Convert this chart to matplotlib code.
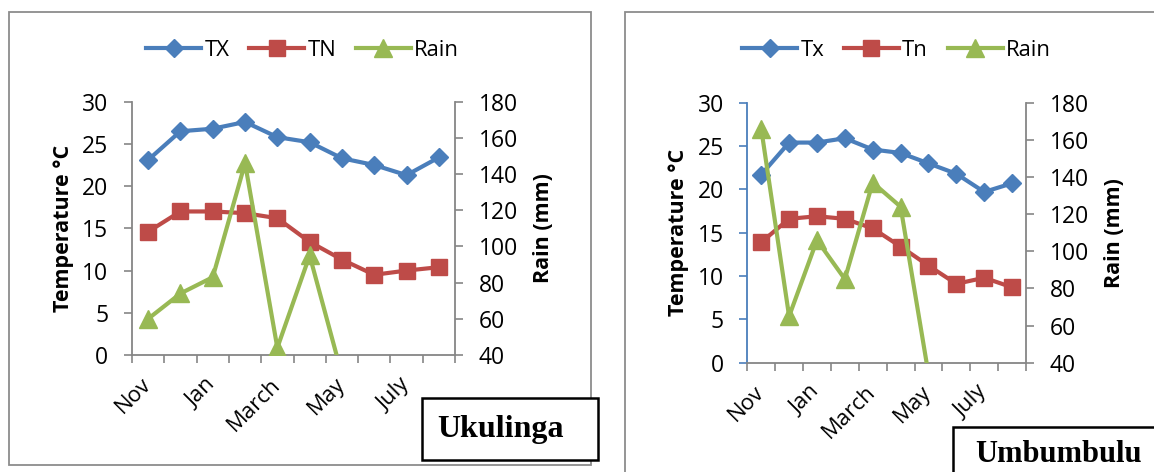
import numpy as np
import matplotlib.pyplot as plt
from matplotlib.patches import Rectangle
from matplotlib.transforms import ScaledTranslation

plt.rcParams['font.family'] = ['Open Sans', 'DejaVu Sans']

# Datos
months = ["Nov", "Dec", "Jan", "Feb", "March", "April", "May", "June", "July", "Aug"]

uk_tx = [23.1, 26.5, 26.8, 27.6, 25.8, 25.2, 23.3, 22.5, 21.3, 23.4]
uk_tn = [14.6, 17.0, 17.0, 16.8, 16.2, 13.4, 11.3, 9.5, 10.0, 10.4]
uk_rain = [60, 74, 83, 146, 44, 95, 29, np.nan, np.nan, np.nan]

um_tx = [21.7, 25.4, 25.4, 25.9, 24.6, 24.2, 23.0, 21.8, 19.7, 20.7]
um_tn = [13.9, 16.6, 16.9, 16.6, 15.5, 13.4, 11.2, 9.1, 9.8, 8.7]
um_rain = [166, 65, 106, 85, 137, 124, 34, np.nan, np.nan, np.nan]

blue = "#4A7EBB"
red = "#BE4B48"
green = "#98B954"
gris = "#868686"

W, H = 1154, 472
fig = plt.figure(figsize=(W / 100, H / 100), dpi=100)


def caja(x0, y0, x1, y1):
    return [x0 / W, 1 - y1 / H, (x1 - x0) / W, (y1 - y0) / H]


# bordes de los graficos
fig.add_artist(Rectangle((8.6 / W, 1 - 465 / H), (590.7 - 8.6) / W, (465 - 11.7) / H,
                         transform=fig.transFigure, fill=False, ec="#8C8C8C", lw=1.3))
fig.add_artist(Rectangle((624.6 / W, -0.05), 0.6, 1.05 - 11.7 / H,
                         transform=fig.transFigure, fill=False, ec="#8C8C8C", lw=1.3))


def grafico(pos, tx, tn, rain, nombres, color_izq, leyenda_x):
    ax = fig.add_axes(pos)
    x = np.arange(len(months))
    l1, = ax.plot(x, tx, color=blue, lw=3, marker="D", ms=9.5, label=nombres[0])
    l2, = ax.plot(x, tn, color=red, lw=3, marker="s", ms=12, label=nombres[1])
    ax.set_ylim(0, 30)
    ax.set_yticks(np.arange(0, 31, 5))
    ax.set_xlim(-0.5, 9.5)
    ax.set_xticks(np.arange(-0.5, 10, 1))
    ax.set_xticklabels([])
    ax.set_xticks(x[::2], minor=True)
    ax.set_xticklabels(months[::2], minor=True, rotation=45, ha="right", va="center",
                       rotation_mode="anchor", fontsize=16)
    off = ScaledTranslation(6 / 100, 0, fig.dpi_scale_trans)
    for t in ax.get_xticklabels(minor=True):
        t.set_transform(t.get_transform() + off)
    ax.tick_params(axis="x", which="minor", length=0, pad=19)
    ax.tick_params(axis="x", which="major", length=5.5, width=1.2, color=gris, direction="out")
    ax.tick_params(axis="y", length=5.5, width=1.2, color=color_izq, labelsize=16.5, pad=11.5)
    ax.spines["top"].set_visible(False)
    ax.spines["right"].set_visible(False)
    ax.spines["left"].set_color(color_izq)
    ax.spines["bottom"].set_color(gris)
    ax.spines["left"].set_linewidth(1.3)
    ax.spines["bottom"].set_linewidth(1.3)
    ax.set_ylabel("Temperature °C", fontsize=15.5, fontweight="bold", labelpad=6)

    ax2 = ax.twinx()
    l3, = ax2.plot(x, rain, color=green, lw=3, marker="^", ms=13, label=nombres[2])
    ax2.set_ylim(40, 180)
    ax2.set_yticks(np.arange(40, 181, 20))
    ax2.tick_params(axis="y", length=5.5, width=1.2, color=gris, labelsize=16.5, pad=11.5)
    for s in ["top", "left", "bottom"]:
        ax2.spines[s].set_visible(False)
    ax2.spines["right"].set_color(gris)
    ax2.spines["right"].set_linewidth(1.3)
    ax2.set_ylabel("Rain (mm)", fontsize=15.5, fontweight="bold", labelpad=11)

    fig.legend(handles=[l1, l2, l3], loc="center", bbox_to_anchor=(leyenda_x / W, 1 - 50 / H),
               ncol=3, frameon=False, fontsize=15.8, handlelength=2.5, handletextpad=0.15,
               columnspacing=0.9, borderaxespad=0, borderpad=0)
    return ax


grafico(caja(132, 101.7, 455, 355), uk_tx, uk_tn, uk_rain, ["TX", "TN", "Rain"], gris, 302.5)
grafico(caja(747.3, 102.7, 1026, 362.7), um_tx, um_tn, um_rain, ["Tx", "Tn", "Rain"], blue, 896.5)

# cuadros con los nombres
fig.add_artist(Rectangle((421.7 / W, 1 - 460 / H), (598.3 - 421.7) / W, (460 - 398.3) / H,
                         transform=fig.transFigure, fc="white", ec="black", lw=1.8))
fig.text(500.5 / W, 1 - 430 / H, "Ukulinga", family="Liberation Serif", fontweight="bold",
         fontsize=23, ha="center", va="center")
fig.add_artist(Rectangle((953.3 / W, -0.05), 0.3, 0.05 + 1 - 426.7 / H,
                         transform=fig.transFigure, fc="white", ec="black", lw=1.8))
fig.text(1058 / W, 1 - 454 / H, "Umbumbulu", family="Liberation Serif", fontweight="bold",
         fontsize=22, ha="center", va="center")

plt.savefig("out.png", dpi=100)
